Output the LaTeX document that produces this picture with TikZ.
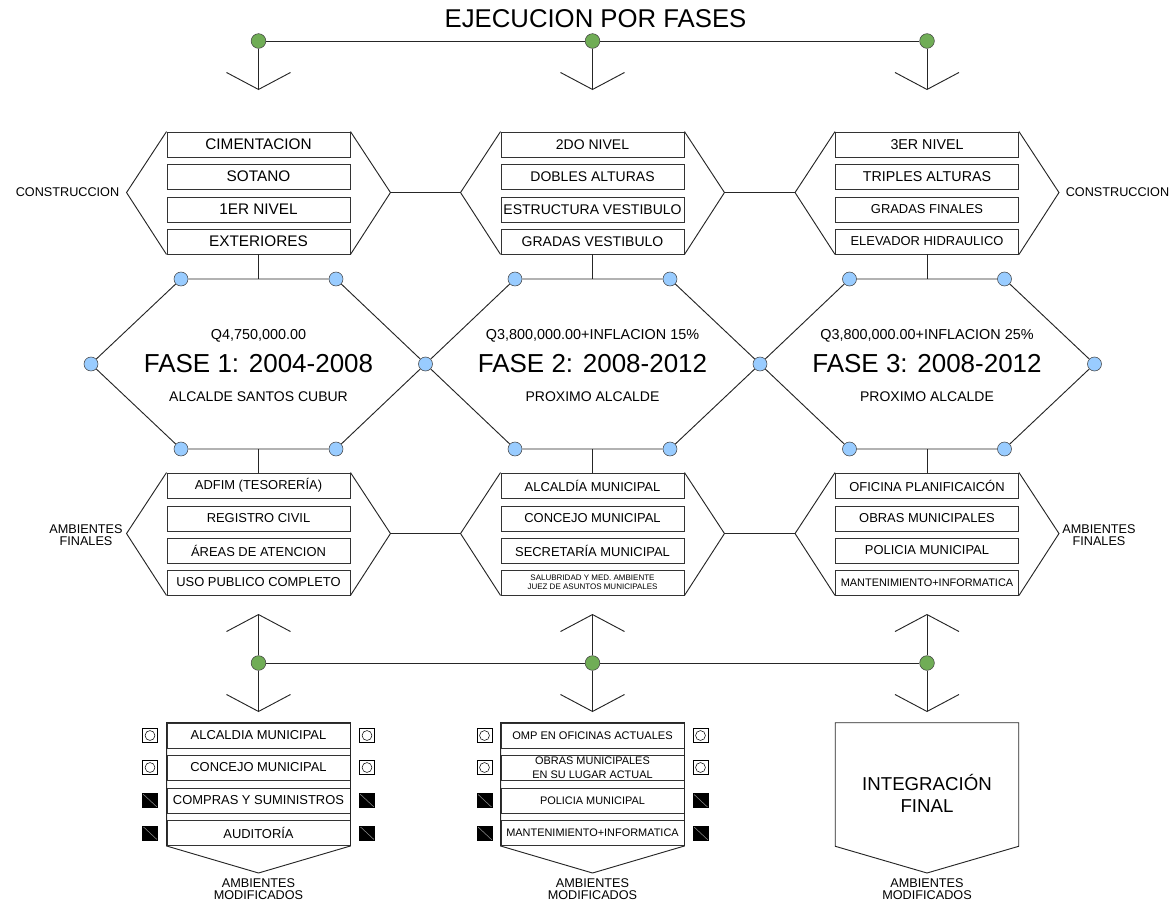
\documentclass[tikz,border=0pt]{standalone}
\usepackage{fontspec}
\setmainfont{Liberation Sans}
\usetikzlibrary{arrows.meta}
\definecolor{dotblue}{RGB}{153,204,255}
\definecolor{dotgreen}{RGB}{112,173,86}
\newcommand{\fsz}[2]{\fontsize{#1}{#2}\selectfont}

\begin{document}
\begin{tikzpicture}[x=0.75pt, y=-0.75pt,
    row/.style={draw=black!80, fill=white, line width=0.7pt, minimum width=137.25pt, minimum height=18.75pt, inner sep=0pt, align=center, font=\fsz{9.7}{11}},
    bdot/.style={circle, draw=black!75, fill=dotblue, minimum size=10.5pt, inner sep=0pt},
    gdot/.style={circle, draw=black!75, fill=dotgreen, minimum size=11pt, inner sep=0pt},
    line/.style={draw=black!85, line width=0.7pt},
    barb/.style={-{Straight Barb[length=12.75pt, width=48pt]}},
    tag/.style={font=\fsz{9.5}{9}, align=center, inner sep=0pt},
    sqo/.style={draw, fill=white, minimum width=11.25pt, minimum height=10.5pt, inner sep=0pt,
      path picture={\draw (path picture bounding box.center) circle (3.7pt);}},
    sqf/.style={draw, fill=black, minimum width=11.25pt, minimum height=10.5pt, inner sep=0pt,
      path picture={\draw[black!45] (path picture bounding box.north west) -- (path picture bounding box.south east);}}
  ]
  \useasboundingbox (0,0) rectangle (1175,904);

  % title and top bus
  \node[font=\fsz{19.3}{22}] (title) at (595.5,19) {EJECUCION POR FASES};
  \node[gdot] (g1) at (258.5,41) {};
  \node[gdot] (g2) at (592.5,41) {};
  \node[gdot] (g3) at (927,41) {};
  \coordinate (v1) at (258.5,90);
  \coordinate (v2) at (592.5,90);
  \coordinate (v3) at (927,90);
  \draw[line] (g1) -- (g2) -- (g3);
  \draw[line, barb] (g1) -- (v1);
  \draw[line, barb] (g2) -- (v2);
  \draw[line, barb] (g3) -- (v3);

  % construccion
  \node[row, font=\fsz{11.5}{13}] (c11) at (258.5,144.5) {CIMENTACION};
  \node[row, font=\fsz{11.5}{13}] (c12) at (258.5,176.5) {SOTANO};
  \node[row, font=\fsz{11.5}{13}] (c13) at (258.5,209.5) {1ER NIVEL};
  \node[row, font=\fsz{11.5}{13}] (c14) at (258.5,241.5) {EXTERIORES};
  \node[row, font=\fsz{10.5}{12}] (c21) at (592.5,144.5) {2DO NIVEL};
  \node[row, font=\fsz{10.5}{12}] (c22) at (592.5,176.5) {DOBLES ALTURAS};
  \node[row, font=\fsz{10.5}{12}] (c23) at (592.5,209.5) {ESTRUCTURA VESTIBULO};
  \node[row, font=\fsz{10.5}{12}] (c24) at (592.5,241.5) {GRADAS VESTIBULO};
  \node[row, font=\fsz{10.7}{12}] (c31) at (927,144.5) {3ER NIVEL};
  \node[row, font=\fsz{10.7}{12}] (c32) at (927,176.5) {TRIPLES ALTURAS};
  \node[row] (c33) at (927,209.5) {GRADAS FINALES};
  \node[row] (c34) at (927,241.5) {ELEVADOR HIDRAULICO};

  \draw[line] (c11.north west) -- ++(-40,61) coordinate (cl1) -- (c14.south west);
  \draw[line] (c11.north east) -- ++(40,61) coordinate (cr1) -- (c14.south east);
  \draw[line] (c21.north west) -- ++(-40,61) coordinate (cl2) -- (c24.south west);
  \draw[line] (c21.north east) -- ++(40,61) coordinate (cr2) -- (c24.south east);
  \draw[line] (c31.north west) -- ++(-40,61) coordinate (cl3) -- (c34.south west);
  \draw[line] (c31.north east) -- ++(40,61) coordinate (cr3) -- (c34.south east);
  \draw[line] (cr1) -- (cl2);
  \draw[line] (cr2) -- (cl3);
  \node[tag] (con1) at (67.5,192.5) {CONSTRUCCION};
  \node[tag] (con3) at (1117.5,192.5) {CONSTRUCCION};

  % fases
  \node[bdot] (L0) at (91,364) {};
  \node[bdot] (L1) at (425.5,364) {};
  \node[bdot] (L2) at (760,364) {};
  \node[bdot] (L3) at (1094.5,364) {};
  \node[bdot] (t1a) at (181,279) {};
  \node[bdot] (t1b) at (336,279) {};
  \node[bdot] (t2a) at (515,279) {};
  \node[bdot] (t2b) at (670,279) {};
  \node[bdot] (t3a) at (849.5,279) {};
  \node[bdot] (t3b) at (1004.5,279) {};
  \node[bdot] (b1a) at (181,449) {};
  \node[bdot] (b1b) at (336,449) {};
  \node[bdot] (b2a) at (515,449) {};
  \node[bdot] (b2b) at (670,449) {};
  \node[bdot] (b3a) at (849.5,449) {};
  \node[bdot] (b3b) at (1004.5,449) {};
  \draw[line] (L0) -- (t1a) -- (t1b) -- (L1) -- (b1b) -- (b1a) -- (L0);
  \draw[line] (L1) -- (t2a) -- (t2b) -- (L2) -- (b2b) -- (b2a) -- (L1);
  \draw[line] (L2) -- (t3a) -- (t3b) -- (L3) -- (b3b) -- (b3a) -- (L2);
  \draw[line] (c14.south) -- (c14.south |- t1a);
  \draw[line] (c24.south) -- (c24.south |- t2a);
  \draw[line] (c34.south) -- (c34.south |- t3a);

  \node[font=\fsz{10.8}{12}] (q1) at (258.5,336) {Q4,750,000.00};
  \node[font=\fsz{19.5}{22}] (fase1) at (258.5,364) {FASE 1: 2004-2008};
  \node[font=\fsz{10.5}{12}] (who1) at (258.5,397) {ALCALDE SANTOS CUBUR};
  \node[font=\fsz{10.8}{12}] (q2) at (592.5,336) {Q3,800,000.00+INFLACION 15\%};
  \node[font=\fsz{19.5}{22}] (fase2) at (592.5,364) {FASE 2: 2008-2012};
  \node[font=\fsz{10.5}{12}] (who2) at (592.5,397) {PROXIMO ALCALDE};
  \node[font=\fsz{10.8}{12}] (q3) at (927,336) {Q3,800,000.00+INFLACION 25\%};
  \node[font=\fsz{19.5}{22}] (fase3) at (927,364) {FASE 3: 2008-2012};
  \node[font=\fsz{10.5}{12}] (who3) at (927,397) {PROXIMO ALCALDE};

  % ambientes finales
  \node[row] (f11) at (258.5,485.5) {ADFIM (TESORERÍA)};
  \node[row] (f12) at (258.5,518.5) {REGISTRO CIVIL};
  \node[row] (f13) at (258.5,550.5) {ÁREAS DE ATENCION};
  \node[row] (f14) at (258.5,582.5) {USO PUBLICO COMPLETO};
  \node[row] (f21) at (592.5,485.5) {ALCALDÍA MUNICIPAL};
  \node[row] (f22) at (592.5,518.5) {CONCEJO MUNICIPAL};
  \node[row] (f23) at (592.5,550.5) {SECRETARÍA MUNICIPAL};
  \node[row, font=\fsz{6}{7}] (f24) at (592.5,582.5) {SALUBRIDAD Y MED. AMBIENTE\\JUEZ DE ASUNTOS MUNICIPALES};
  \node[row] (f31) at (927,485.5) {OFICINA PLANIFICAICÓN};
  \node[row] (f32) at (927,518.5) {OBRAS MUNICIPALES};
  \node[row] (f33) at (927,550.5) {POLICIA MUNICIPAL};
  \node[row, font=\fsz{8.2}{10}] (f34) at (927,582.5) {MANTENIMIENTO+INFORMATICA};

  \draw[line] (f11.north west) -- ++(-40,61) coordinate (fl1) -- (f14.south west);
  \draw[line] (f11.north east) -- ++(40,61) coordinate (fr1) -- (f14.south east);
  \draw[line] (f21.north west) -- ++(-40,61) coordinate (fl2) -- (f24.south west);
  \draw[line] (f21.north east) -- ++(40,61) coordinate (fr2) -- (f24.south east);
  \draw[line] (f31.north west) -- ++(-40,61) coordinate (fl3) -- (f34.south west);
  \draw[line] (f31.north east) -- ++(40,61) coordinate (fr3) -- (f34.south east);
  \draw[line] (fr1) -- (fl2);
  \draw[line] (fr2) -- (fl3);
  \draw[line] (f11.north) -- (f11.north |- b1a);
  \draw[line] (f21.north) -- (f21.north |- b2a);
  \draw[line] (f31.north) -- (f31.north |- b3a);
  \node[tag] (af1) at (86,535) {AMBIENTES\\FINALES};
  \node[tag] (af3) at (1099,535) {AMBIENTES\\FINALES};

  % bottom bus
  \node[gdot] (h1) at (258.5,663) {};
  \node[gdot] (h2) at (592.5,663) {};
  \node[gdot] (h3) at (927,663) {};
  \coordinate (u1) at (258.5,614);
  \coordinate (u2) at (592.5,614);
  \coordinate (u3) at (927,614);
  \coordinate (d1) at (258.5,712);
  \coordinate (d2) at (592.5,712);
  \coordinate (d3) at (927,712);
  \draw[line] (h1) -- (h2) -- (h3);
  \draw[line, barb] (h1) -- (u1);
  \draw[line, barb] (h2) -- (u2);
  \draw[line, barb] (h3) -- (u3);
  \draw[line, barb] (h1) -- (d1);
  \draw[line, barb] (h2) -- (d2);
  \draw[line, barb] (h3) -- (d3);

  % ambientes modificados
  \node[row] (m11) at (258.5,735.5) {ALCALDIA MUNICIPAL};
  \node[row] (m12) at (258.5,767.5) {CONCEJO MUNICIPAL};
  \node[row] (m13) at (258.5,800.5) {COMPRAS Y SUMINISTROS};
  \node[row] (m14) at (258.5,833) {AUDITORÍA};
  \node[row, font=\fsz{8.3}{10}] (m21) at (592.5,735.5) {OMP EN OFICINAS ACTUALES};
  \node[row, font=\fsz{8.2}{10.5}] (m22) at (592.5,767.5) {OBRAS MUNICIPALES\\EN SU LUGAR ACTUAL};
  \node[row, font=\fsz{8.2}{10}] (m23) at (592.5,800.5) {POLICIA MUNICIPAL};
  \node[row, font=\fsz{8.2}{10}] (m24) at (592.5,833) {MANTENIMIENTO+INFORMATICA};
  \coordinate (k1) at (258.5,873);
  \coordinate (k2) at (592.5,873);
  \coordinate (k3) at (927,873);
  \draw[line] (m11.north west) -- (m11.north east) -- (m14.south east) -- (k1) -- (m14.south west) -- cycle;
  \draw[line] (m21.north west) -- (m21.north east) -- (m24.south east) -- (k2) -- (m24.south west) -- cycle;

  \node[minimum width=137.25pt, minimum height=92.25pt, inner sep=0pt] (fin) at (927,784.5) {};
  \draw[line] (fin.north west) -- (fin.north east) -- (fin.south east) -- (k3) -- (fin.south west) -- cycle;
  \node[font=\fsz{14}{16.5}, align=center] (fintxt) at (927,793) {INTEGRACIÓN\\FINAL};

  \foreach \x [count=\n] in {150,367,484.5,700.5} {
    \node[sqo] (sa\n) at (\x,735.5) {};
    \node[sqo] (sb\n) at (\x,767.5) {};
    \node[sqf] (sc\n) at (\x,800.5) {};
    \node[sqf] (sd\n) at (\x,833) {};
  }

  \node[tag] (am1) at (258.5,889) {AMBIENTES\\MODIFICADOS};
  \node[tag] (am2) at (592.5,889) {AMBIENTES\\MODIFICADOS};
  \node[tag] (am3) at (927,889) {AMBIENTES\\MODIFICADOS};
\end{tikzpicture}
\end{document}
